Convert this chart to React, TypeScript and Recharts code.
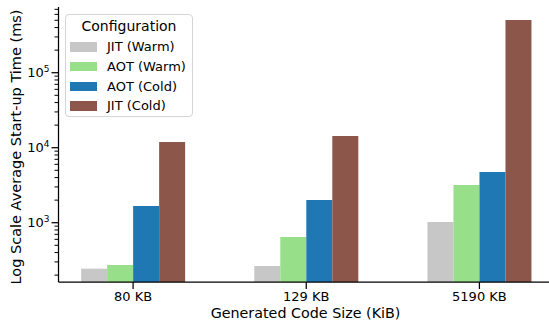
import { BarChart, Bar, XAxis, YAxis, Legend, Label } from 'recharts';

const SIZES = ['80 KB', '129 KB', '5190 KB'];
const JIT_WARM = [244, 265, 1020];
const AOT_WARM = [273, 644, 3190];
const AOT_COLD = [1670, 2010, 4750];
const JIT_COLD = [11900, 14300, 504000];

const MAJOR_TICKS = [1000, 10000, 100000];
const Y_DOMAIN = [162, 752000];

const SERIES = [
  { key: 'jitWarm', name: 'JIT (Warm)', color: '#c7c7c7', values: JIT_WARM },
  { key: 'aotWarm', name: 'AOT (Warm)', color: '#98df8a', values: AOT_WARM },
  { key: 'aotCold', name: 'AOT (Cold)', color: '#1f77b4', values: AOT_COLD },
  { key: 'jitCold', name: 'JIT (Cold)', color: '#8c564b', values: JIT_COLD },
];

const data = SIZES.map((size, i) => {
  const row: Record<string, string | number> = { size };
  for (const s of SERIES) row[s.key] = s.values[i];
  return row;
});

// minor ticks 2..9 x each decade, clipped to domain
const yTicks: number[] = [];
for (const base of [100, ...MAJOR_TICKS]) {
  if (base !== 100) yTicks.push(base);
  for (let m = 2; m <= 9; m++) {
    const v = base * m;
    if (v >= Y_DOMAIN[0] && v <= Y_DOMAIN[1]) yTicks.push(v);
  }
}

const FONT = 'DejaVu Sans';

function YTick(props: any) {
  const { x, y, payload } = props;
  const major = MAJOR_TICKS.includes(payload.value);
  const len = major ? 7 : 4;
  return (
    <g>
      <line x1={x - len} x2={x} y1={y} y2={y} stroke="#000" strokeWidth={major ? 1.25 : 1} />
      {major && (
        <text x={x - 9} y={y + 4.7} textAnchor="end" fontSize={13} fill="#000" fontFamily={FONT}>
          10
          <tspan dy={-5} fontSize={9}>
            {Math.round(Math.log10(payload.value))}
          </tspan>
        </text>
      )}
    </g>
  );
}

function renderLegend() {
  return (
    <div
      style={{
        position: 'relative',
        width: 128,
        height: 103,
        boxSizing: 'border-box',
        border: '1px solid #d4d4d4',
        borderRadius: 4,
        background: 'rgba(255,255,255,0.85)',
        fontFamily: FONT,
        color: '#000',
      }}
    >
      <div style={{ position: 'absolute', left: 0, right: 0, top: 2, textAlign: 'center', fontSize: 14, lineHeight: '18px' }}>
        Configuration
      </div>
      {SERIES.map((s, i) => (
        <div key={s.key}>
          <div
            style={{ position: 'absolute', left: 4, top: 27 + i * 19.8, width: 27, height: 9.5, background: s.color }}
          />
          <div style={{ position: 'absolute', left: 41, top: 23 + i * 19.8, fontSize: 13, lineHeight: '17px', whiteSpace: 'nowrap' }}>
            {s.name}
          </div>
        </div>
      ))}
    </div>
  );
}

export default function App() {
  return (
    <div style={{ position: 'absolute', left: 0, top: 0, width: 549, height: 324, overflow: 'hidden', background: '#fff' }}>
      <BarChart
        width={560}
        height={324}
        data={data}
        margin={{ top: 7, right: 7, left: 0, bottom: 0 }}
        barCategoryGap="20%"
        barGap={0}
        style={{ fontFamily: FONT }}
      >
        <XAxis
          dataKey="size"
          height={42}
          padding={{ left: -12, right: -13 }}
          tickSize={7}
          tickMargin={3}
          axisLine={{ stroke: '#000', strokeWidth: 1.25 }}
          tickLine={{ stroke: '#000', strokeWidth: 1.25 }}
          tick={{ fill: '#000', fontSize: 13, fontFamily: FONT }}
        >
          <Label
            content={(p: any) => (
              <text x={305.5} y={318} textAnchor="middle" fontSize={14.3} fill="#000" fontFamily={FONT}>
                Generated Code Size (KiB)
              </text>
            )}
          />
        </XAxis>
        <XAxis
          xAxisId="top"
          dataKey="size"
          orientation="top"
          height={0}
          tick={false}
          tickLine={false}
          axisLine={{ stroke: '#000', strokeWidth: 1.25 }}
        />
        <YAxis
          scale="log"
          type="number"
          domain={Y_DOMAIN}
          allowDataOverflow
          ticks={yTicks}
          interval={0}
          width={58.5}
          tickSize={0}
          tickMargin={0}
          tickLine={false}
          tick={<YTick />}
          axisLine={{ stroke: '#000', strokeWidth: 1.25 }}
        >
          <Label
            content={(p: any) => (
              <text
                x={0}
                y={0}
                transform="translate(21 147) rotate(-90)"
                textAnchor="middle"
                fontSize={14.5}
                fill="#000"
                fontFamily={FONT}
              >
                Log Scale Average Start-up Time (ms)
              </text>
            )}
          />
        </YAxis>
        <Legend
          layout="vertical"
          align="center"
          verticalAlign="middle"
          width={128}
          content={renderLegend}
          wrapperStyle={{ left: 65, top: 14, width: 128, height: 103 }}
        />
        {SERIES.map((s) => (
          <Bar key={s.key} dataKey={s.key} name={s.name} fill={s.color} isAnimationActive={false} />
        ))}
      </BarChart>
    </div>
  );
}
